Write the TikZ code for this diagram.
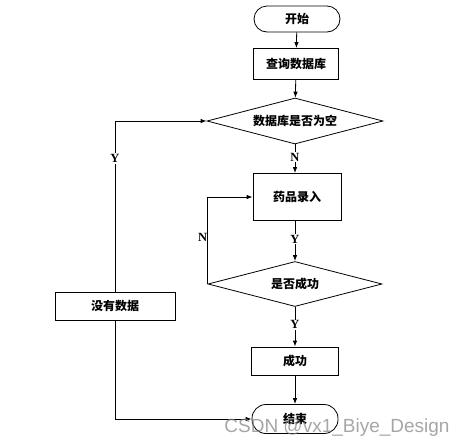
\documentclass[tikz,border=0pt]{standalone}
\usepackage{fontspec}
\newfontfamily\cjk{Noto Sans CJK SC}
\newfontfamily\lab{Liberation Serif}
\newfontfamily\wm{Liberation Sans}
\usetikzlibrary{shapes.geometric,arrows.meta}
\begin{document}
\begin{tikzpicture}[x=1pt,y=-1pt,
  every node/.style={font=\cjk\bfseries\fontsize{12}{14}\selectfont, inner sep=0pt},
  box/.style={draw, line width=0.8pt, rectangle},
  term/.style={draw, line width=0.8pt, rectangle, rounded corners=13pt},
  dia/.style={draw, line width=0.8pt, diamond, aspect=3.8},
  conn/.style={line width=0.8pt, -{Latex[length=6pt,width=4.5pt]}},
  yn/.style={font=\lab\bfseries\fontsize{12.5}{13}\selectfont, fill=white, inner sep=1pt}]
\useasboundingbox (0,0) rectangle (461,445);
\node[term, minimum width=86pt, minimum height=26pt] (start) at (297,19) {开始};
\node[box, minimum width=85pt, minimum height=31pt] (query) at (296,64) {查询数据库};
\node[dia, minimum width=176pt, minimum height=46pt] (d1) at (295,121) {数据库是否为空};
\node[box, minimum width=88pt, minimum height=47pt] (rec) at (297,197) {药品录入};
\node[dia, minimum width=174pt, minimum height=45pt] (d2) at (295,284) {是否成功};
\node[box, minimum width=87pt, minimum height=28pt] (ok) at (295,361) {成功};
\node[term, minimum width=86pt, minimum height=29pt, rounded corners=14pt] (end) at (295,419) {结束};
\node[box, minimum width=120pt, minimum height=28pt] (nodata) at (115,306) {没有数据};

\draw[conn] (start) -- (query);
\draw[conn] (query) -- (d1);
\draw[conn] (d1.south) -- node[yn, pos=0.45] (lN) {N} (d1.south |- rec.north);
\draw[conn] (rec.south -| d2.north) -- node[yn, pos=0.45] (lY) {Y} (d2.north);
\draw[conn] (d2.south) -- node[yn, pos=0.45] (lY2) {Y} (d2.south |- ok.north);
\draw[conn] (ok.south) -- (ok.south |- end.north);
\draw[conn] (d2.west) |- node[yn, pos=0.27, anchor=east, fill=none, xshift=1pt] (lN2) {N} (rec.west);
\draw[conn] (nodata.north) |- node[yn, pos=0.39] (lY3) {Y} (d1.west);
\draw[conn] (nodata.south) |- (end.west);

\node[font=\wm\fontsize{19}{20}\selectfont, text=gray, opacity=0.7] (wmark) at (337,428) {CSDN @vx1\_Biye\_Design};
\end{tikzpicture}
\end{document}
